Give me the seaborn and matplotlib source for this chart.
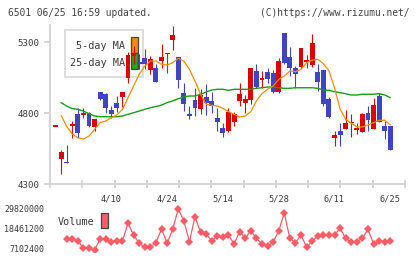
import pandas as pd
import matplotlib
matplotlib.use('Agg')
import matplotlib.pyplot as plt
import matplotlib.patches as mpatches
import seaborn as sns

# daily candles (index 0..60)
opens = [4710, 4476, 4458, 4708, 4793, 4786, 4800, 4703, 4952, 4934,
         4823, 4875, 4915, 5051, 5204, 5163, 5190, 5103, 5121, 5168,
         5226, 5316, 5196, 4943, 4796, 4894, 4832, 4915, 4887, 4769,
         4699, 4675, 4741, 4887, 4875, 4894, 5098, 5034, 5093, 5086,
         4952, 5365, 5196, 5117, 5128, 5163, 5138, 5093, 5105, 4898,
         4628, 4675, 4692, 4730, 4685, 4670, 4800, 4692, 4920, 4711, 4711]
highs = [4710, 4539, 4577, 4746, 4835, 4835, 4811, 4762, 4952, 4945,
         4851, 4922, 4950, 5231, 5274, 5216, 5251, 5203, 5145, 5286,
         5226, 5415, 5196, 5011, 4851, 4980, 4969, 5008, 4952, 4835,
         4734, 4835, 4811, 5015, 4929, 5121, 5150, 5098, 5121, 5103,
         5192, 5365, 5267, 5133, 5262, 5210, 5361, 5145, 5105, 4915,
         4675, 4734, 4823, 4793, 4734, 4804, 4851, 4905, 4945, 4746, 4711]
lows = [4710, 4375, 4450, 4628, 4628, 4769, 4704, 4675, 4895, 4804,
        4765, 4811, 4845, 5015, 5147, 5110, 5110, 5075, 5023, 5121,
        5086, 5245, 4980, 4816, 4762, 4781, 4797, 4788, 4804, 4675,
        4633, 4668, 4711, 4851, 4802, 4868, 4980, 4980, 5015, 4945,
        4945, 5150, 5063, 4976, 5117, 5121, 5126, 4957, 4851, 4765,
        4570, 4570, 4692, 4635, 4656, 4670, 4675, 4692, 4741, 4621, 4542]
closes = [4710, 4527, 4452, 4722, 4663, 4804, 4711, 4762, 4903, 4835,
          4797, 4839, 4950, 5210, 5216, 5145, 5145, 5180, 5023, 5196,
          5220, 5351, 5034, 4868, 4784, 4839, 4929, 4875, 4851, 4741,
          4663, 4809, 4797, 4938, 4901, 5121, 4985, 5051, 5044, 4952,
          5168, 5156, 5117, 5075, 5262, 5175, 5295, 5023, 4868, 4774,
          4647, 4647, 4734, 4741, 4699, 4792, 4753, 4858, 4741, 4675, 4542]

# moving averages, index 1..60
ma5 = [4785, 4708, 4654, 4628, 4619, 4640, 4687, 4734, 4746, 4769,
       4788, 4828, 4910, 4992, 5075, 5133, 5168, 5168, 5145, 5140,
       5156, 5187, 5168, 5110, 5027, 4934, 4863, 4856, 4851, 4835,
       4811, 4793, 4774, 4781, 4811, 4887, 4938, 4969, 4992, 5039,
       5063, 5098, 5093, 5110, 5156, 5175, 5180, 5150, 5100, 4980,
       4830, 4758, 4730, 4704, 4704, 4718, 4734, 4751, 4751, 4718]
ma25 = [4875, 4851, 4833, 4828, 4816, 4797, 4781, 4776, 4776, 4776,
        4776, 4781, 4793, 4804, 4816, 4828, 4839, 4848, 4858, 4875,
        4887, 4903, 4915, 4922, 4922, 4934, 4950, 4964, 4969, 4969,
        4962, 4969, 4969, 4969, 4969, 4976, 4980, 4985, 4985, 4980,
        4976, 4976, 4980, 4980, 4980, 4980, 4976, 4964, 4962, 4952,
        4945, 4938, 4929, 4929, 4934, 4934, 4934, 4938, 4929, 4910]

# volume, index 2..60
volume = [12470000, 12470000, 11500000, 7100000, 7100000, 6100000, 12470000, 12470000,
          10900000, 11500000, 11500000, 21500000, 14800000, 10000000, 8000000, 8000000,
          10300000, 18200000, 10000000, 18100000, 29800000, 22900000, 10900000, 25400000,
          16300000, 15400000, 11300000, 14400000, 13500000, 14800000, 9600000, 16700000,
          12900000, 17300000, 12900000, 9600000, 8400000, 10600000, 17300000, 27300000,
          12900000, 10300000, 14800000, 7700000, 11300000, 14200000, 14800000, 14800000,
          14800000, 18650000, 12900000, 10600000, 10900000, 12900000, 18100000, 9600000,
          11500000, 10900000, 11500000]

date_idx = [10, 20, 30, 40, 50, 60]
date_labels = ['4/10', '4/24', '5/14', '5/28', '6/11', '6/25']
price_ticks = [4300, 4800, 5300]
vol_ticks = [7102400, 18461200, 29820000]

sns.set_style('white')
plt.rcParams['font.family'] = ['DejaVu Sans Mono']

RED = '#dc0000'
BLUE = '#3f44c2'
ORANGE = '#ff8c00'
GREEN = '#14a014'
VOLC = '#ff5c66'
AXC = '#d4d4d4'
TXT = '#3a3a3a'

W, H = 420, 259
fig = plt.figure(figsize=(4.2, 2.59), dpi=100)

def fx(px):
    return px / W

def fy(py):
    return 1 - py / H

ax = fig.add_axes([fx(50), fy(184.3), 355 / W, (184.3 - 25) / H])
axv = fig.add_axes([fx(50), fy(252), 355 / W, 47 / H])

x0, x1 = (50 - 55.5) / 5.58, (405 - 55.5) / 5.58

# candles
idx = list(range(len(opens)))
for i in idx:
    o, h, l, c = opens[i], highs[i], lows[i], closes[i]
    col = RED if c >= o else BLUE
    ax.vlines(i, l, h, color=col, linewidth=0.8, zorder=3)
    lo = min(o, c)
    ht = max(abs(c - o), 9)
    if abs(c - o) < 9:
        lo = (o + c) / 2 - 4.5
    ax.bar(i, ht, bottom=lo, width=0.88, color=col, linewidth=0, zorder=3)

ma_df = pd.DataFrame({'idx': idx[1:], 'ma5': ma5, 'ma25': ma25})
sns.lineplot(data=ma_df, x='idx', y='ma25', ax=ax, color=GREEN, linewidth=1.0, zorder=4)
sns.lineplot(data=ma_df, x='idx', y='ma5', ax=ax, color=ORANGE, linewidth=0.9, zorder=4)

ax.set_xlim(x0, x1)
ax.set_ylim(4300, 4300 + (184.3 - 25) / 0.142)
ax.set_xlabel('')
ax.set_ylabel('')
for s in ['top', 'right']:
    ax.spines[s].set_visible(False)
for s in ['left', 'bottom']:
    ax.spines[s].set_color(AXC)
    ax.spines[s].set_linewidth(1.4)
ax.set_yticks(price_ticks)
ax.set_yticklabels([str(v) for v in price_ticks])
ax.tick_params(axis='y', direction='out', length=4.3, width=1.4, color=AXC,
               labelsize=6.6, labelcolor=TXT, pad=3.2, left=True)
grid = [x0 + k * (x1 - x0) / 11 for k in range(12)]
ax.set_xticks(grid)
ax.set_xticklabels([])
ax.set_xticks(date_idx, minor=True)
ax.set_xticklabels(date_labels, minor=True)
ax.tick_params(axis='x', which='major', direction='inout', length=5.5, width=1.4,
               color=AXC, bottom=True)
ax.tick_params(axis='x', which='minor', length=0, labelsize=6.2, labelcolor=TXT, pad=7.5)

# legend
ax.add_patch(mpatches.Rectangle((fx(65), fy(77.3)), (143.3 - 65) / W, (77.3 - 30) / H,
                                transform=fig.transFigure, facecolor='white', alpha=0.85,
                                edgecolor=AXC, linewidth=1.3, zorder=1, clip_on=False))
ax.add_patch(mpatches.Rectangle((fx(131), fy(53.3)), 6.7 / W, 16.6 / H,
                                transform=fig.transFigure, facecolor=ORANGE,
                                edgecolor='#444444', linewidth=0.9, zorder=2, clip_on=False))
ax.add_patch(mpatches.Rectangle((fx(131), fy(69)), 6.7 / W, 15.7 / H,
                                transform=fig.transFigure, facecolor='#10b010',
                                edgecolor='#444444', linewidth=0.9, zorder=2, clip_on=False))
fig.text(fx(125), fy(46), '5-day MA', ha='right', va='center', fontsize=7.3, color=TXT, zorder=5)
fig.text(fx(125), fy(63), '25-day MA', ha='right', va='center', fontsize=7.3, color=TXT, zorder=5)

# volume panel
vol_df = pd.DataFrame({'idx': idx[2:], 'vol': volume})
sns.lineplot(data=vol_df, x='idx', y='vol', ax=axv, color=VOLC, linewidth=0.9,
             marker='D', markersize=3.8, markeredgewidth=0, markerfacecolor=VOLC)
axv.set_xlim(x0, x1)
axv.set_ylim(7102400 - 3.7 * 577500, 29820000 + 4 * 577500)
axv.set_xlabel('')
axv.set_ylabel('')
for s in axv.spines.values():
    s.set_visible(False)
axv.set_xticks([])
axv.set_yticks(vol_ticks)
axv.set_yticklabels([str(v) for v in vol_ticks])
axv.tick_params(axis='y', length=0, labelsize=6, labelcolor=TXT, pad=4.1)
axv.patch.set_alpha(0)

fig.text(fx(58), fy(222.3), 'Volume', ha='left', va='center', fontsize=7.3, color=TXT)
fig.patches.append(mpatches.Rectangle((fx(101), fy(228.3)), 6.7 / W, 15 / H,
                                      transform=fig.transFigure, facecolor=VOLC,
                                      edgecolor='#444444', linewidth=0.9, figure=fig))

# header
fig.text(fx(8), fy(12.7), '6501 06/25 16:59 updated.', ha='left', va='center',
         fontsize=6.9, color='#444444')
fig.text(fx(410), fy(12.7), '(C)https://www.rizumu.net/', ha='right', va='center',
         fontsize=6.9, color='#444444')

fig.savefig('out.png', dpi=100)
